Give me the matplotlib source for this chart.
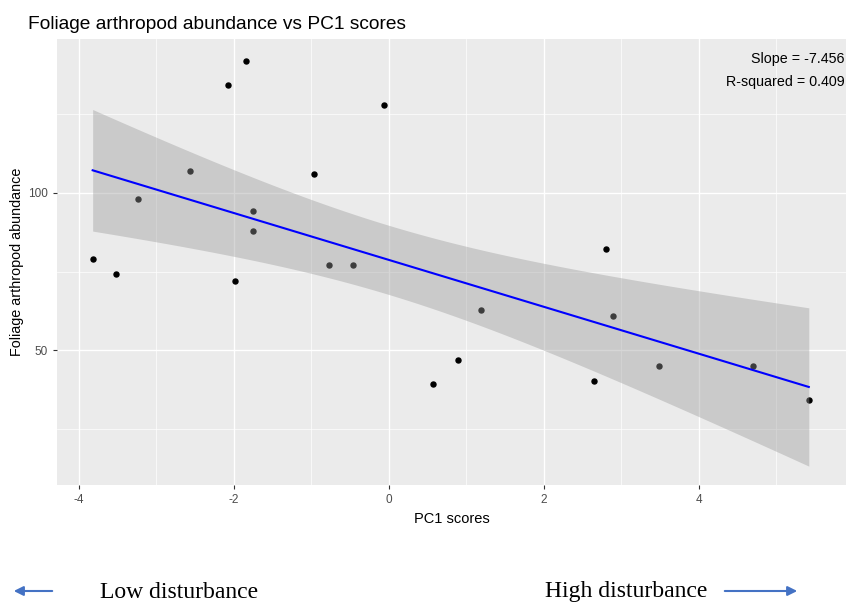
import matplotlib.pyplot as plt
import numpy as np

plt.rcParams["font.family"] = ["Liberation Sans", "DejaVu Sans"]
plt.rcParams["axes.unicode_minus"] = False

# PC1 score and foliage arthropod abundance per site
pc1 = [-3.82, -3.52, -3.24, -2.56, -2.07, -1.98, -1.84, -1.75, -1.75, -0.97, -0.77,
       -0.46, -0.06, 0.57, 0.90, 1.19, 2.65, 2.80, 2.89, 3.49, 4.70, 5.42]
abundance = [79.0, 74.2, 98.0, 106.9, 134.2, 72.0, 141.8, 94.2, 87.9, 106.0, 77.1,
             77.1, 127.9, 39.3, 47.0, 62.8, 40.3, 82.2, 60.9, 45.1, 45.1, 34.3]
slope_text = "-7.456"
rsq_text = "0.409"
x_ticks = [-4, -2, 0, 2, 4]
y_ticks = [50, 100]

x = np.array(pc1)
y = np.array(abundance)
n = len(x)
b, a = np.polyfit(x, y, 1)
xs = np.linspace(x.min(), x.max(), 80)
fit = a + b * xs
resid = y - (a + b * x)
s = np.sqrt(np.sum(resid ** 2) / (n - 2))
sxx = np.sum((x - x.mean()) ** 2)
t_crit = 2.086  # t(0.975, df=20)
half = t_crit * s * np.sqrt(1 / n + (xs - x.mean()) ** 2 / sxx)

fig = plt.figure(figsize=(8.47, 6.04), dpi=100)
ax = fig.add_axes([57 / 847, 1 - 485 / 604, 789 / 847, 446 / 604])
ax.set_facecolor("#EBEBEB")
for sp in ax.spines.values():
    sp.set_visible(False)

ax.set_xlim(-4.28, 5.9)
ax.set_ylim(7.3, 148.8)
ax.set_xticks(x_ticks)
ax.set_yticks(y_ticks)
ax.set_xticks([-3, -1, 1, 3, 5], minor=True)
ax.set_yticks([25, 75, 125], minor=True)
ax.grid(which="major", color="white", lw=1.0)
ax.grid(which="minor", color="white", lw=0.5)
ax.set_axisbelow(True)
ax.tick_params(which="major", length=3, width=0.8, color="#333333",
               labelcolor="#4D4D4D", labelsize=8.5)
ax.tick_params(which="minor", length=0)

ax.plot(x, y, "o", color="black", ms=3.6, zorder=2)
ax.fill_between(xs, fit - half, fit + half, color="#999999", alpha=0.4, lw=0, zorder=3)
ax.plot(xs, fit, color="#0000FF", lw=1.5, zorder=4)

ax.text(0.998, 0.955, f"Slope = {slope_text}", transform=ax.transAxes,
        ha="right", va="center", fontsize=10.3, color="black")
ax.text(0.998, 0.903, f"R-squared = {rsq_text}", transform=ax.transAxes,
        ha="right", va="center", fontsize=10.3, color="black")

ax.set_title("Foliage arthropod abundance vs PC1 scores", loc="left",
             fontsize=13.8, x=-0.037, pad=7)
ax.set_xlabel("PC1 scores", fontsize=10.5, labelpad=4)
ax.set_ylabel("Foliage arthropod abundance", fontsize=10.4, labelpad=3)

# disturbance gradient below the plot
arrow_kw = dict(arrowstyle="-|>", color="#4472C4", lw=1.5, mutation_scale=14)
fig.patches.append(plt.matplotlib.patches.FancyArrowPatch(
    (55 / 847, 1 - 591 / 604), (11 / 847, 1 - 591 / 604),
    transform=fig.transFigure, **arrow_kw))
fig.patches.append(plt.matplotlib.patches.FancyArrowPatch(
    (722 / 847, 1 - 591 / 604), (800 / 847, 1 - 591 / 604),
    transform=fig.transFigure, **arrow_kw))
fig.text(100 / 847, 1 - 592 / 604, "Low disturbance", family="Liberation Serif",
         fontsize=17, ha="left", va="center")
fig.text(545 / 847, 1 - 592 / 604, "High disturbance", family="Liberation Serif",
         fontsize=17, ha="left", va="center")

fig.savefig("out.png", dpi=100)
